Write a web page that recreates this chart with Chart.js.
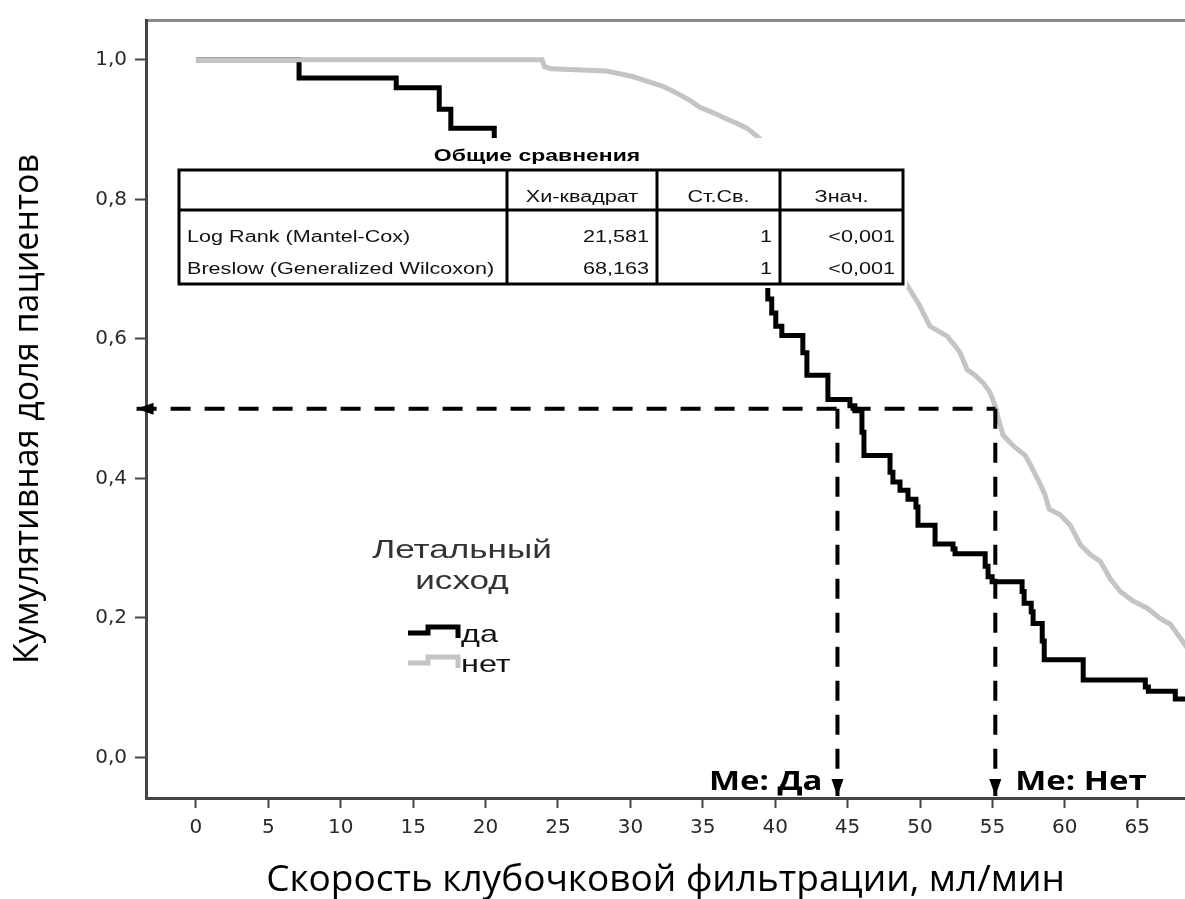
<!DOCTYPE html>
<html lang="ru">
<head>
<meta charset="utf-8">
<title>Кумулятивная доля пациентов</title>
<script src="https://cdn.jsdelivr.net/npm/chart.js@4.4.1/dist/chart.umd.min.js"></script>
<style>
  html, body { margin: 0; padding: 0; background: #fff; }
  canvas { display: block; }
</style>
</head>
<body>
<canvas id="kmChart" width="1185" height="899"></canvas>
<script>
// Axis ticks
const xTickValues = [0, 5, 10, 15, 20, 25, 30, 35, 40, 45, 50, 55, 60, 65];
const yTickValues = [0, 0.2, 0.4, 0.6, 0.8, 1.0];

// "да" (fatal outcome) - step curve
const daX = [0, 7.12, 13.83, 16.8, 17.6, 20.6, 24.0, 28.0, 31.0, 33.5, 35.5, 37.5, 38.8,
  39.49, 39.76, 40.04, 40.46, 41.91, 42.19, 43.64, 45.16, 45.50, 45.99, 46.13,
  47.93, 48.13, 48.62, 49.17, 49.72, 49.86, 51.04, 52.28, 52.42, 54.50, 54.70, 54.98,
  57.05, 57.19, 57.68, 57.81, 58.44, 58.58, 61.27, 65.56, 65.77, 67.63, 69.0];
const daY = [1.0, 0.974, 0.960, 0.929, 0.902, 0.87, 0.85, 0.83, 0.80, 0.78, 0.75, 0.72, 0.69,
  0.657, 0.637, 0.618, 0.605, 0.580, 0.548, 0.513, 0.504, 0.497, 0.466, 0.433,
  0.409, 0.395, 0.383, 0.370, 0.359, 0.333, 0.306, 0.299, 0.292, 0.274, 0.259, 0.252,
  0.238, 0.221, 0.209, 0.192, 0.167, 0.140, 0.111, 0.101, 0.095, 0.084, 0.084];

// "нет" - dense curve, many small events
const netX = [0, 23.9, 24.07, 24.55, 28.35, 29.25, 30.15, 31.19, 32.23, 32.85, 33.40, 34.09, 34.79,
  35.62, 36.65, 37.34, 38.04, 38.59, 39.14, 41.01, 42.74, 44.47, 45.85, 47.23, 48.48,
  49.17, 49.59, 50.00, 50.35, 50.69, 51.87, 52.42, 52.77, 53.25, 53.80, 54.36, 54.84,
  55.19, 55.39, 55.74, 56.43, 57.26, 57.61, 57.95, 58.30, 58.64, 58.92, 59.68, 60.37,
  60.72, 61.07, 61.76, 62.45, 62.79, 63.14, 63.83, 64.73, 65.70, 66.60, 67.29, 67.77,
  68.12, 68.53];
const netY = [1.0, 1.0, 0.990, 0.987, 0.984, 0.980, 0.976, 0.969, 0.962, 0.956, 0.950, 0.942, 0.932,
  0.925, 0.915, 0.909, 0.902, 0.893, 0.883, 0.850, 0.819, 0.786, 0.754, 0.722, 0.697,
  0.675, 0.661, 0.647, 0.632, 0.618, 0.604, 0.590, 0.580, 0.556, 0.548, 0.537, 0.523,
  0.504, 0.487, 0.462, 0.447, 0.433, 0.420, 0.406, 0.392, 0.376, 0.356, 0.348, 0.333,
  0.319, 0.305, 0.291, 0.281, 0.269, 0.256, 0.238, 0.224, 0.214, 0.199, 0.191, 0.177,
  0.167, 0.155];

// Medians
const medianLevel = 0.5;
const medianDa = 44.3;
const medianNet = 55.2;
const arrowTipX = -4.1;
const arrowTipY = -0.055;

const seriesNames = ['да', 'нет'];
const legendTitle = ['Летальный', 'исход'];
const medianLabels = ['Me: Да', 'Me: Нет'];

// Comparison table
const tableTitle = 'Общие сравнения';
const tableHeader = ['', 'Хи-квадрат', 'Ст.Св.', 'Знач.'];
const tableRows = [
  ['Log Rank (Mantel-Cox)', '21,581', '1', '<0,001'],
  ['Breslow (Generalized Wilcoxon)', '68,163', '1', '<0,001']
];

const xMin = -3.45, xMax = 68.3;
const yMin = -0.058, yMax = 1.057;

const toPoints = (xs, ys) => xs.map((v, i) => ({ x: v, y: ys[i] }));

// text looks horizontally stretched in the original picture
function stretchText(ctx, text, x, y, align, sx = 1.35) {
  ctx.save();
  ctx.translate(x, y);
  ctx.scale(sx, 1);
  ctx.textAlign = align;
  ctx.fillText(text, 0, 0);
  ctx.restore();
}

function arrowHead(ctx, tx, ty, dir) {
  const len = 17, half = 6;
  ctx.beginPath();
  if (dir === 'left') {
    ctx.moveTo(tx, ty);
    ctx.lineTo(tx + len, ty - half);
    ctx.lineTo(tx + len, ty + half);
  } else {
    ctx.moveTo(tx, ty);
    ctx.lineTo(tx - half, ty - len);
    ctx.lineTo(tx + half, ty - len);
  }
  ctx.closePath();
  ctx.fill();
}

const overlay = {
  id: 'overlay',
  afterDatasetsDraw(chart) {
    const { ctx, scales: { x, y } } = chart;
    ctx.save();

    // arrow heads on the median lines
    ctx.fillStyle = '#000';
    arrowHead(ctx, x.getPixelForValue(arrowTipX), y.getPixelForValue(medianLevel), 'left');
    arrowHead(ctx, x.getPixelForValue(medianDa), y.getPixelForValue(arrowTipY), 'down');
    arrowHead(ctx, x.getPixelForValue(medianNet), y.getPixelForValue(arrowTipY), 'down');

    // median labels
    ctx.font = 'bold 27px "Open Sans"';
    ctx.textBaseline = 'alphabetic';
    stretchText(ctx, medianLabels[0], x.getPixelForValue(medianDa) - 15, 790, 'right', 1.22);
    stretchText(ctx, medianLabels[1], x.getPixelForValue(medianNet) + 20, 790, 'left', 1.22);

    // table
    const left = 179, right = 903, top = 170, headBottom = 210, bottom = 284;
    const cols = [left, 507, 657, 780, right];
    ctx.fillStyle = '#fff';
    ctx.fillRect(175, 138, 732, 150);
    ctx.fillStyle = '#000';
    ctx.font = 'bold 17px "Liberation Sans"';
    stretchText(ctx, tableTitle, 537, 161, 'center');
    ctx.strokeStyle = '#000';
    ctx.lineWidth = 3;
    ctx.strokeRect(left, top, right - left, bottom - top);
    ctx.beginPath();
    ctx.moveTo(left, headBottom);
    ctx.lineTo(right, headBottom);
    for (let i = 1; i < cols.length - 1; i++) {
      ctx.moveTo(cols[i], top);
      ctx.lineTo(cols[i], bottom);
    }
    ctx.stroke();
    ctx.fillStyle = '#111';
    ctx.font = '16px "Liberation Sans"';
    tableHeader.forEach((t, i) => {
      if (t) stretchText(ctx, t, (cols[i] + cols[i + 1]) / 2, 202, 'center');
    });
    tableRows.forEach((row, r) => {
      const by = 242 + r * 32;
      row.forEach((t, i) => {
        if (i === 0) stretchText(ctx, t, cols[0] + 8, by, 'left');
        else stretchText(ctx, t, cols[i + 1] - 8, by, 'right');
      });
    });

    // legend
    ctx.fillStyle = '#333';
    ctx.font = '26px "Liberation Sans"';
    stretchText(ctx, legendTitle[0], 462, 558, 'center');
    stretchText(ctx, legendTitle[1], 462, 589, 'center');
    chart.data.datasets.slice(0, 2).forEach((ds, i) => {
      const oy = i * 30;
      ctx.strokeStyle = ds.borderColor;
      ctx.lineWidth = 5;
      ctx.beginPath();
      ctx.moveTo(408, 633 + oy);
      ctx.lineTo(428, 633 + oy);
      ctx.lineTo(428, 627 + oy);
      ctx.lineTo(458, 627 + oy);
      ctx.lineTo(458, 638 + oy);
      ctx.stroke();
      ctx.fillStyle = '#111';
      ctx.font = '24px "Liberation Sans"';
      stretchText(ctx, ds.label, 461, 642 + oy, 'left');
    });

    ctx.restore();
  }
};

const dashStyle = {
  borderColor: '#000',
  borderWidth: 4,
  borderDash: [20, 14],
  pointRadius: 0,
  clip: false,
  order: 0
};

new Chart(document.getElementById('kmChart'), {
  type: 'line',
  data: {
    datasets: [
      {
        label: seriesNames[0],
        data: toPoints(daX, daY),
        stepped: true,
        borderColor: '#000',
        borderWidth: 5,
        pointRadius: 0,
        order: 2
      },
      {
        label: seriesNames[1],
        data: toPoints(netX, netY),
        borderColor: '#c4c4c4',
        borderWidth: 5,
        pointRadius: 0,
        order: 1
      },
      Object.assign({ label: 'median', data: [{ x: arrowTipX, y: medianLevel }, { x: medianNet, y: medianLevel }] }, dashStyle),
      Object.assign({ label: 'median да', data: [{ x: medianDa, y: medianLevel }, { x: medianDa, y: arrowTipY }] }, dashStyle),
      Object.assign({ label: 'median нет', data: [{ x: medianNet, y: medianLevel }, { x: medianNet, y: arrowTipY }] }, dashStyle)
    ]
  },
  options: {
    responsive: false,
    animation: false,
    layout: { padding: 0 },
    plugins: {
      legend: { display: false },
      tooltip: { enabled: false }
    },
    scales: {
      x: {
        type: 'linear',
        position: 'bottom',
        min: xMin,
        max: xMax,
        afterBuildTicks: (axis) => { axis.ticks = xTickValues.map(v => ({ value: v })); },
        afterFit: (scale) => { scale.height = 101; },
        grid: { display: true, drawOnChartArea: false, drawTicks: true, tickLength: 10, tickWidth: 2, tickColor: '#444' },
        border: { display: true, color: '#444', width: 3 },
        ticks: { padding: 8, color: '#2a2a2a', font: { family: 'DejaVu Sans', size: 20 }, maxRotation: 0 },
        title: {
          display: true,
          text: 'Скорость клубочковой фильтрации, мл/мин',
          color: '#000',
          padding: { top: 0, bottom: 0 },
          font: { family: 'Open Sans', size: 37, lineHeight: 1 }
        }
      },
      top: {
        type: 'linear',
        position: 'top',
        min: xMin,
        max: xMax,
        afterFit: (scale) => { scale.height = 15; },
        grid: { display: false },
        ticks: { display: false },
        border: { display: true, color: '#8c8c8c', width: 3 }
      },
      y: {
        type: 'linear',
        min: yMin,
        max: yMax,
        afterBuildTicks: (axis) => { axis.ticks = yTickValues.map(v => ({ value: v })); },
        afterFit: (scale) => { scale.width = 146; },
        grid: { display: true, drawOnChartArea: false, drawTicks: true, tickLength: 11, tickWidth: 2, tickColor: '#444' },
        border: { display: true, color: '#444', width: 3 },
        ticks: {
          padding: 8,
          color: '#2a2a2a',
          font: { family: 'DejaVu Sans', size: 20 },
          callback: (v) => v.toFixed(1).replace('.', ',')
        },
        title: {
          display: true,
          text: 'Кумулятивная доля пациентов',
          color: '#000',
          padding: { top: 11, bottom: 0 },
          font: { family: 'Open Sans', size: 34, lineHeight: 1 }
        }
      }
    }
  },
  plugins: [overlay]
});
</script>
</body>
</html>
